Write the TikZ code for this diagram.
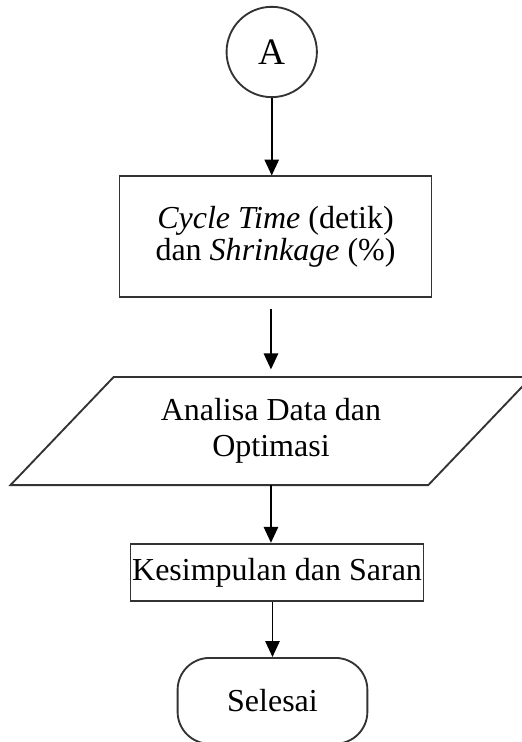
\documentclass[tikz,border=0pt]{standalone}
\usepackage{fontspec}
\setmainfont{Liberation Serif}
\usetikzlibrary{positioning,arrows.meta}

\begin{document}
\begin{tikzpicture}[
  node distance=1cm,
  base/.style={draw=black!80,line width=0.7pt,align=center,
    font=\fontsize{12}{12}\selectfont,inner sep=0pt},
  conn/.style={circle,base,minimum size=1.19cm,font=\fontsize{14}{14}\selectfont},
  procbox/.style={rectangle,base,minimum width=4.11cm,minimum height=1.59cm},
  iobox/.style={rectangle,base,draw=none,minimum width=5.48cm,minimum height=1.40cm,
    font=\fontsize{12}{13.5}\selectfont},
  endbox/.style={rectangle,base,rounded corners=0.42cm,minimum width=2.5cm,
    minimum height=1.13cm},
  arr/.style={-{Triangle[length=0.21cm,width=0.19cm]},line width=0.6pt}
]
  \useasboundingbox (0,0) rectangle (6.865,-9.776);

  \node[conn] (circ) at (3.58,-0.685) {A};
  \node[procbox,below=1.02cm of circ,xshift=0.05cm] (box1)
    {{\itshape Cycle Time} (detik)\\dan {\itshape Shrinkage} (\%)};
  \node[iobox,below=1.04cm of box1,xshift=-0.06cm] (para)
    {Analisa Data dan\\Optimasi};
  \node[procbox,minimum width=3.86cm,minimum height=0.76cm,
    below=0.76cm of para,xshift=0.08cm] (box2) {Kesimpulan dan Saran};
  \node[endbox,below=0.72cm of box2,xshift=-0.06cm] (term) {Selesai};

  % parallelogram outline
  \draw[draw=black!80,line width=0.7pt]
    ([xshift=0.68cm]para.north west) -- ([xshift=0.68cm]para.north east)
    -- ([xshift=-0.68cm]para.south east) -- ([xshift=-0.68cm]para.south west)
    -- cycle;

  \draw[arr] (circ) -- (circ |- box1.north);
  \draw[arr,shorten <=0.15cm,shorten >=0.1cm] (para |- box1.south) -- (para.north);
  \draw[arr] (para.south) -- (para.south |- box2.north);
  \draw[arr] (term |- box2.south) -- (term.north);
\end{tikzpicture}
\end{document}
